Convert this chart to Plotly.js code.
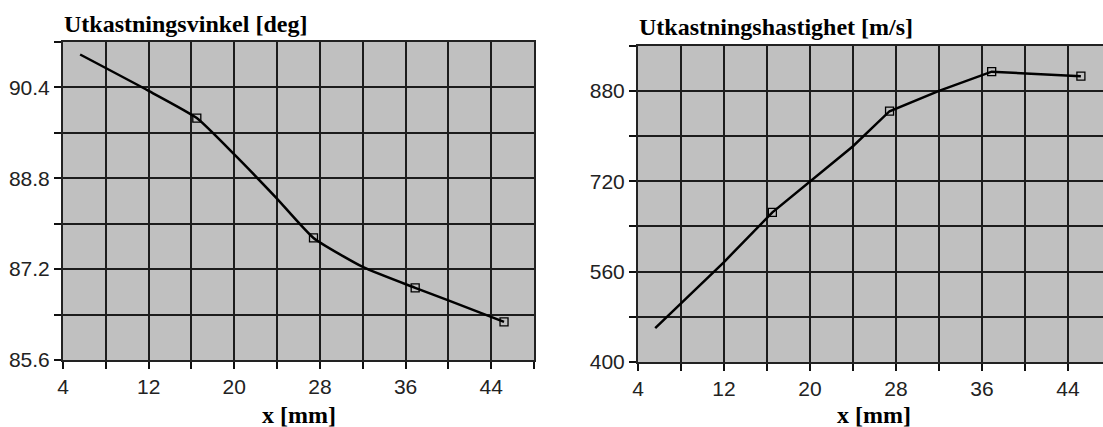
<!DOCTYPE html>
<html>
<head>
<meta charset="utf-8">
<script src="https://cdn.plot.ly/plotly-3.0.1.min.js"></script>
<style>
html,body{margin:0;padding:0;background:#fff;overflow:hidden;}
#chart{width:1120px;height:427px;}
</style>
</head>
<body>
<div id="chart"></div>
<script>
// ---- data ----
const markerX = [16.5, 27.4, 36.9, 45.2];

const angleCurveX = [5.6, 12.0, 16.5, 20.0, 23.9, 27.4, 32.1, 36.9, 40.0, 45.2];
const angleCurveY = [90.98, 90.34, 89.86, 89.22, 88.46, 87.75, 87.23, 86.87, 86.65, 86.27];
const angleMarkY  = [89.86, 87.75, 86.87, 86.27];

const speedCurveX = [5.6, 12.0, 16.5, 20.0, 24.0, 27.4, 32.0, 36.9, 39.9, 42.6, 45.2];
const speedCurveY = [460, 577, 665, 720, 782, 844, 880, 914, 911, 909, 906];
const speedMarkY  = [665, 844, 914, 906];

const xTickVals  = [4, 8, 12, 16, 20, 24, 28, 32, 36, 40, 44, 48];
const xTickText  = ['4', '', '12', '', '20', '', '28', '', '36', '', '44', ''];
const angleTickVals = [85.6, 86.4, 87.2, 88.0, 88.8, 89.6, 90.4, 91.2];
const angleTickText = ['85.6', '', '87.2', '', '88.8', '', '90.4', ''];
const speedTickVals = [400, 480, 560, 640, 720, 800, 880, 960];
const speedTickText = ['400', '', '560', '', '720', '', '880', ''];

const titleLeft  = 'Utkastningsvinkel [deg]';
const titleRight = 'Utkastningshastighet [m/s]';
const xTitle = 'x [mm]';

// ---- figure ----
const W = 1120, H = 427;
const px = v => v / W;
const py = v => 1 - v / H;

const lineStyle = {color: '#000', width: 2.5, shape: 'spline', smoothing: 0.5};
const markStyle = {symbol: 'square-open', size: 8, color: '#000', line: {width: 1.3, color: '#000'}};

const traces = [
  {x: angleCurveX, y: angleCurveY, mode: 'lines', line: lineStyle, xaxis: 'x', yaxis: 'y', hoverinfo: 'skip'},
  {x: markerX, y: angleMarkY, mode: 'markers', marker: markStyle, xaxis: 'x', yaxis: 'y'},
  {x: speedCurveX, y: speedCurveY, mode: 'lines', line: Object.assign({}, lineStyle, {shape: 'linear'}), xaxis: 'x2', yaxis: 'y2', hoverinfo: 'skip'},
  {x: markerX, y: speedMarkY, mode: 'markers', marker: markStyle, xaxis: 'x2', yaxis: 'y2'}
];

const tickFont = {family: 'Liberation Sans', size: 21, color: '#222'};

function xAx(domain, anchor) {
  return {
    domain: domain, anchor: anchor, range: [4, 48], tickmode: 'array',
    tickvals: xTickVals, ticktext: xTickText, ticks: 'outside', ticklen: 7,
    tickcolor: '#111', tickwidth: 2, showgrid: true, gridcolor: '#1c1c1c', gridwidth: 2,
    showline: true, linecolor: '#222', linewidth: 2, mirror: true, zeroline: false,
    tickfont: tickFont, automargin: false, fixedrange: true
  };
}
function yAx(domain, anchor, range, vals, text) {
  return {
    domain: domain, anchor: anchor, range: range, tickmode: 'array',
    tickvals: vals, ticktext: text, ticks: 'outside', ticklen: 7,
    tickcolor: '#111', tickwidth: 2, showgrid: true, gridcolor: '#1c1c1c', gridwidth: 2,
    showline: true, linecolor: '#222', linewidth: 2, mirror: true, zeroline: false,
    tickfont: tickFont, automargin: false, fixedrange: true
  };
}

const titleFont = {family: 'Liberation Serif', size: 24, color: '#000', weight: 'bold'};

const layout = {
  width: W, height: H,
  margin: {l: 0, r: 0, t: 0, b: 0},
  paper_bgcolor: '#fff', plot_bgcolor: '#c0c0c0',
  showlegend: false,
  xaxis: xAx([px(63), px(534)], 'y'),
  yaxis: yAx([py(360), py(42)], 'x', [85.6, 91.2], angleTickVals, angleTickText),
  xaxis2: xAx([px(638), px(1111)], 'y2'),
  yaxis2: yAx([py(362), py(45.7)], 'x2', [400, 960], speedTickVals, speedTickText),
  annotations: [
    {text: '<b>' + titleLeft + '</b>', xref: 'paper', yref: 'paper', x: px(62), y: py(24), xanchor: 'left', yanchor: 'middle', showarrow: false, font: titleFont},
    {text: '<b>' + titleRight + '</b>', xref: 'paper', yref: 'paper', x: px(637), y: py(27), xanchor: 'left', yanchor: 'middle', showarrow: false, font: titleFont},
    {text: '<b>' + xTitle + '</b>', xref: 'paper', yref: 'paper', x: px(298.5), y: py(415), xanchor: 'center', yanchor: 'middle', showarrow: false, font: titleFont},
    {text: '<b>' + xTitle + '</b>', xref: 'paper', yref: 'paper', x: px(874.5), y: py(415), xanchor: 'center', yanchor: 'middle', showarrow: false, font: titleFont}
  ]
};

Plotly.newPlot('chart', traces, layout, {displayModeBar: false, staticPlot: true});
</script>
</body>
</html>
